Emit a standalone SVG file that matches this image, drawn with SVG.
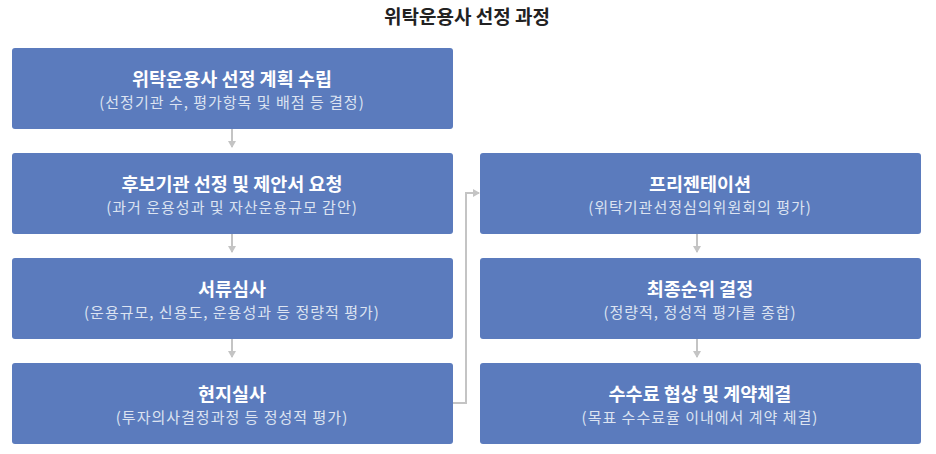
<svg xmlns="http://www.w3.org/2000/svg" width="936" height="454" viewBox="0 0 936 454">
<style>
.box{fill:#5b7bbd}
.t{font-family:"Noto Sans CJK KR","Noto Sans",sans-serif;font-size:18.5px;font-weight:bold;fill:#ffffff;text-anchor:middle}
.s{font-family:"Noto Sans CJK KR","Noto Sans",sans-serif;font-size:15px;letter-spacing:1px;fill:#dce3f1;text-anchor:middle}
.c{fill:none;stroke:#c4c4c4;stroke-width:2}
.h{font-family:"Noto Sans CJK KR","Noto Sans",sans-serif;font-size:19px;font-weight:bold;fill:#222;text-anchor:middle}
</style>
<defs>
<marker id="ah" markerWidth="8" markerHeight="8" refX="6" refY="4" orient="auto" markerUnits="userSpaceOnUse">
<path d="M0,0 L7,4 L0,8 Z" fill="#c4c4c4"/>
</marker>
</defs>
<rect width="936" height="454" fill="#ffffff"/>
<text class="h" x="467" y="24">위탁운용사 선정 과정</text>
<g id="connectors">
<line class="c" x1="232" y1="129" x2="232" y2="147" marker-end="url(#ah)"/>
<line class="c" x1="232" y1="234" x2="232" y2="252" marker-end="url(#ah)"/>
<line class="c" x1="232" y1="339" x2="232" y2="357" marker-end="url(#ah)"/>
<polyline class="c" points="453,403 466,403 466,193 479,193" marker-end="url(#ah)"/>
<line class="c" x1="697" y1="234" x2="697" y2="252" marker-end="url(#ah)"/>
<line class="c" x1="697" y1="339" x2="697" y2="357" marker-end="url(#ah)"/>
</g>
<g id="n1"><rect class="box" x="12" y="48" width="441" height="81" rx="3"/>
<text class="t" x="232" y="86">위탁운용사 선정 계획 수립</text>
<text class="s" x="232" y="108">(선정기관 수, 평가항목 및 배점 등 결정)</text></g>
<g id="n2"><rect class="box" x="12" y="153" width="441" height="81" rx="3"/>
<text class="t" x="232" y="191">후보기관 선정 및 제안서 요청</text>
<text class="s" x="232" y="213">(과거 운용성과 및 자산운용규모 감안)</text></g>
<g id="n3"><rect class="box" x="12" y="258" width="441" height="81" rx="3"/>
<text class="t" x="232" y="296">서류심사</text>
<text class="s" x="232" y="318">(운용규모, 신용도, 운용성과 등 정량적 평가)</text></g>
<g id="n4"><rect class="box" x="12" y="363" width="441" height="81" rx="3"/>
<text class="t" x="232" y="401">현지실사</text>
<text class="s" x="232" y="423">(투자의사결정과정 등 정성적 평가)</text></g>
<g id="n5"><rect class="box" x="480" y="153" width="441" height="81" rx="3"/>
<text class="t" x="700" y="191">프리젠테이션</text>
<text class="s" x="700" y="213">(위탁기관선정심의위원회의 평가)</text></g>
<g id="n6"><rect class="box" x="480" y="258" width="441" height="81" rx="3"/>
<text class="t" x="700" y="296">최종순위 결정</text>
<text class="s" x="700" y="318">(정량적, 정성적 평가를 종합)</text></g>
<g id="n7"><rect class="box" x="480" y="363" width="441" height="81" rx="3"/>
<text class="t" x="700" y="401">수수료 협상 및 계약체결</text>
<text class="s" x="700" y="423">(목표 수수료율 이내에서 계약 체결)</text></g>
</svg>
